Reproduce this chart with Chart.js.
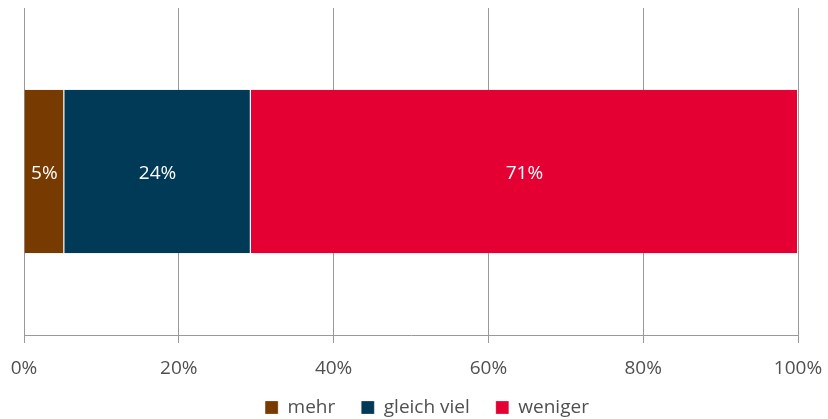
<!DOCTYPE html>
<html>
<head>
<meta charset="utf-8">
<script src="https://cdn.jsdelivr.net/npm/chart.js@4/dist/chart.umd.min.js"></script>
<style>
  html, body { margin: 0; padding: 0; background: #fff; }
  #wrap { width: 828px; height: 419px; }
</style>
</head>
<body>
<div id="wrap"><canvas id="chart"></canvas></div>
<script>
// Data
const categories = [''];
const seriesNames = ['mehr', 'gleich viel', 'weniger'];
const mehrValues = [5.2];
const gleichValues = [24.1];
const wenigerValues = [70.7];
const seriesColors = ['#773A00', '#003A57', '#E40032'];
const tickValues = [0, 20, 40, 60, 80, 100];

const fontFamily = '"Open Sans", "Noto Sans", sans-serif';

// simple in-bar value labels
const barLabels = {
    id: 'barLabels',
    afterDatasetsDraw(chart) {
        const ctx = chart.ctx;
        ctx.save();
        ctx.fillStyle = '#ffffff';
        ctx.font = '19px ' + fontFamily;
        ctx.textAlign = 'center';
        ctx.textBaseline = 'middle';
        chart.data.datasets.forEach((ds, i) => {
            chart.getDatasetMeta(i).data.forEach((bar, j) => {
                const v = ds.data[j];
                const x = (bar.x + bar.base) / 2;
                ctx.fillText(Math.round(v) + '%', x, bar.y + 2);
            });
        });
        ctx.restore();
    }
};

// the x axis box is squeezed to pull the legend up; let its labels draw below it
const layoutTweaks = {
    id: 'layoutTweaks',
    afterLayout(chart) {
        chart.scales.x.bottom = chart.height;
        chart.legend.left += 16;
        chart.legend.right += 16;
    }
};

const datasets = [mehrValues, gleichValues, wenigerValues].map((vals, i) => ({
    label: seriesNames[i],
    data: vals,
    backgroundColor: seriesColors[i],
    borderColor: '#ffffff',
    borderWidth: { left: 0, right: 1, top: 0, bottom: 0 },
    borderSkipped: false,
    barPercentage: 1,
    categoryPercentage: 0.5
}));

new Chart(document.getElementById('chart'), {
    type: 'bar',
    data: { labels: categories, datasets: datasets },
    options: {
        indexAxis: 'y',
        responsive: true,
        maintainAspectRatio: false,
        animation: false,
        layout: { padding: { left: 24, right: 30, top: 8, bottom: -8 } },
        plugins: {
            legend: {
                position: 'bottom',
                labels: {
                    boxWidth: 13,
                    boxHeight: 13,
                    padding: 26,
                    color: '#505050',
                    font: { family: fontFamily, size: 19 }
                }
            },
            tooltip: { enabled: false }
        },
        scales: {
            x: {
                stacked: true,
                min: 0,
                max: 100,
                afterBuildTicks(axis) {
                    axis.ticks = tickValues.map(v => ({ value: v }));
                },
                afterFit(scale) {
                    // keep the plot edges fixed, let the end labels overhang
                    scale.paddingLeft = 0;
                    scale.paddingRight = 0;
                    scale.height = 37;
                },
                ticks: {
                    color: '#505050',
                    padding: 14,
                    maxRotation: 0,
                    font: { family: fontFamily, size: 19 },
                    callback: function(value) {
                        return value + '%';
                    }
                },
                grid: {
                    color: '#999999',
                    lineWidth: 1,
                    drawTicks: true,
                    tickLength: 8
                },
                border: { color: '#999999' }
            },
            y: {
                stacked: true,
                display: false
            }
        }
    },
    plugins: [barLabels, layoutTweaks]
});
</script>
</body>
</html>
